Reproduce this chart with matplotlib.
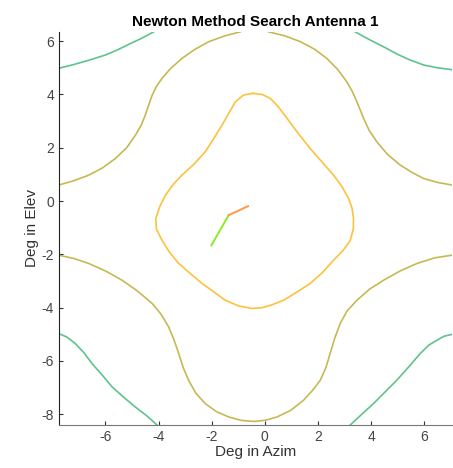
import matplotlib
matplotlib.use("Agg")
import matplotlib.pyplot as plt

# contour lines (deg azim, deg elev)
inner_x = [-0.45, -0.8, -1.11, -1.35, -1.61, -1.9, -2.24, -2.65, -3.12, -3.45, -3.74, -3.95, -4.10,
           -4.08, -3.87, -3.6, -3.24, -2.8, -2.36, -1.9, -1.49, -1.0, -0.48,
           -0.1, 0.25, 0.71, 1.2, 1.71, 2.15, 2.59, 2.95, 3.22, 3.33, 3.34,
           3.28, 3.15, 2.9, 2.59, 2.15, 1.71, 1.25, 0.84, 0.5, 0.21, -0.1, -0.45]
inner_y = [4.04, 3.98, 3.72, 3.3, 2.85, 2.38, 1.85, 1.4, 0.97, 0.62, 0.22, -0.2, -0.65,
           -1.05, -1.47, -1.9, -2.34, -2.72, -3.09, -3.42, -3.72, -3.93, -4.03,
           -4.0, -3.9, -3.72, -3.42, -3.09, -2.7, -2.22, -1.85, -1.47, -1.05, -0.65,
           -0.25, 0.10, 0.55, 0.97, 1.47, 1.97, 2.55, 3.10, 3.55, 3.85, 4.0, 4.04]

mid_top_left_x = [-7.76, -7.2, -6.63, -6.1, -5.62, -5.2, -4.87, -4.65, -4.50, -4.37, -4.24,
                  -4.08, -3.87, -3.55, -3.12, -2.65, -2.11, -1.5, -0.92]
mid_top_left_y = [0.60, 0.76, 0.97, 1.25, 1.60, 2.0, 2.47, 2.85, 3.22, 3.6, 3.97,
                  4.3, 4.60, 4.97, 5.35, 5.68, 5.98, 6.2, 6.35]
mid_top_right_x = [0.14, 0.75, 1.34, 1.87, 2.34, 2.75, 3.09, 3.3, 3.47, 3.6, 3.72,
                   3.93, 4.22, 4.62, 5.10, 5.55, 5.97, 6.5, 7.05]
mid_top_right_y = [6.35, 6.2, 5.98, 5.7, 5.35, 4.93, 4.47, 4.1, 3.72, 3.4, 3.10,
                   2.65, 2.22, 1.75, 1.35, 1.07, 0.85, 0.70, 0.60]
mid_bottom_x = [-7.76, -7.2, -6.63, -6.0, -5.37, -4.8, -4.24, -3.9, -3.62, -3.42, -3.24,
                -3.07, -2.87, -2.6, -2.24, -1.82, -1.36, -0.88, -0.40, 0.05, 0.46,
                0.98, 1.46, 1.8, 2.09, 2.3, 2.46, 2.63, 2.84, 3.1, 3.47,
                3.95, 4.47, 5.1, 5.73, 6.4, 7.05]
mid_bottom_y = [-2.03, -2.15, -2.34, -2.62, -2.97, -3.37, -3.84, -4.25, -4.72, -5.2, -5.72,
                -6.25, -6.72, -7.2, -7.60, -7.9, -8.10, -8.23, -8.27, -8.22, -8.10,
                -7.85, -7.47, -7.1, -6.72, -6.25, -5.72, -5.15, -4.59, -4.12, -3.72,
                -3.3, -2.97, -2.62, -2.34, -2.13, -2.03]

outer_tl_x = [-7.76, -7.2, -6.6, -6.0, -5.55, -5.12, -4.65, -4.18]
outer_tl_y = [4.98, 5.12, 5.29, 5.48, 5.67, 5.88, 6.1, 6.35]
outer_tr_x = [3.40, 3.95, 4.47, 4.97, 5.47, 6.0, 6.5, 7.05]
outer_tr_y = [6.35, 6.05, 5.79, 5.52, 5.29, 5.1, 5.0, 4.93]
outer_bl_x = [-7.76, -7.45, -7.13, -6.8, -6.50, -6.1, -5.75, -5.3, -4.87, -4.45, -4.06]
outer_bl_y = [-4.97, -5.1, -5.35, -5.7, -6.10, -6.55, -6.97, -7.37, -7.73, -8.05, -8.40]
outer_br_x = [3.22, 3.65, 4.09, 4.52, 4.97, 5.42, 5.85, 6.18, 6.48, 6.75, 7.05]
outer_br_y = [-8.40, -8.0, -7.60, -7.17, -6.72, -6.22, -5.72, -5.4, -5.22, -5.07, -5.00]

# newton search steps
path_x = [-2.01, -1.36, -0.63]
path_y = [-1.66, -0.53, -0.19]
path_colors = ['#88ee22', '#ff9944']

plt.rcParams['font.family'] = ['Liberation Sans', 'DejaVu Sans']
plt.rcParams['axes.unicode_minus'] = False

fig = plt.figure(figsize=(4.53, 4.68), dpi=100)
ax = fig.add_axes([0.130, 0.092, 0.868, 0.840])

lw = 1.2
ax.plot(inner_x, inner_y, color='#fcc23c', lw=lw, solid_joinstyle='round')
for xs, ys in [(mid_top_left_x, mid_top_left_y), (mid_top_right_x, mid_top_right_y),
               (mid_bottom_x, mid_bottom_y)]:
    ax.plot(xs, ys, color='#c6b954', lw=lw, solid_joinstyle='round')
for xs, ys in [(outer_tl_x, outer_tl_y), (outer_tr_x, outer_tr_y),
               (outer_bl_x, outer_bl_y), (outer_br_x, outer_br_y)]:
    ax.plot(xs, ys, color='#5ec38c', lw=lw, solid_joinstyle='round')

for i in range(len(path_x) - 1):
    ax.plot(path_x[i:i + 2], path_y[i:i + 2], color=path_colors[i], lw=1.4)

ax.set_xlim(-7.75, 7.05)
ax.set_ylim(-8.4, 6.35)
ax.set_xticks([-6, -4, -2, 0, 2, 4, 6])
ax.set_yticks([-8, -6, -4, -2, 0, 2, 4, 6])
ax.spines['top'].set_visible(False)
ax.spines['right'].set_visible(False)
ax.spines['left'].set_color('#222222')
ax.spines['bottom'].set_color('#777777')
ax.tick_params(direction='in', length=3, labelsize=10, colors='#333333', labelcolor='#444444')

ax.set_title('Newton Method Search Antenna 1', fontsize=11, fontweight='bold', pad=4)
ax.set_xlabel('Deg in Azim', fontsize=11, color='#333333', labelpad=1)
ax.set_ylabel('Deg in Elev', fontsize=11, color='#333333', labelpad=2)

fig.savefig('out.png', dpi=100)
